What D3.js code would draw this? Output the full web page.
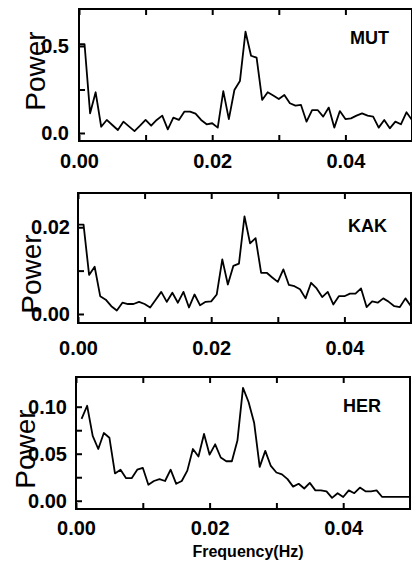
<!DOCTYPE html>
<html>
<head>
<meta charset="utf-8">
<script src="https://cdn.jsdelivr.net/npm/d3@7"></script>
<style>
  body { margin: 0; background: #fff; }
  svg { display: block; font-family: 'Liberation Sans', Arial, sans-serif; }
</style>
</head>
<body>
<div id="chart"></div>
<script>
// frequency grid of the spectra (Hz)
const freqStep = 1 / 1200
const frequencies = d3.range(61).map(i => i * freqStep)

// power values
const mutPower = [
  0.51, 0.51, 0.113, 0.234, 0.036, 0.075, 0.046, 0.017, 0.065, 0.038,
  0.011, 0.042, 0.075, 0.042, 0.075, 0.1, 0.021, 0.088, 0.075, 0.123,
  0.123, 0.111, 0.075, 0.05, 0.056, 0.031, 0.241, 0.08, 0.247, 0.299,
  0.582, 0.444, 0.433, 0.19, 0.234, 0.215, 0.195, 0.218, 0.171, 0.157,
  0.161, 0.065, 0.132, 0.132, 0.094, 0.146, 0.031, 0.126, 0.08, 0.084,
  0.1, 0.113, 0.1, 0.094, 0.031, 0.075, 0.027, 0.065, 0.05, 0.119, 0.075,
]
const kakPower = [
  0.0206, 0.0206, 0.009, 0.0109, 0.0041, 0.0033, 0.0018, 0.0008, 0.0026, 0.0023,
  0.0023, 0.0028, 0.0023, 0.0015, 0.0033, 0.0051, 0.0028, 0.0049, 0.0026, 0.0051,
  0.0015, 0.0045, 0.002, 0.0028, 0.0029, 0.0045, 0.0126, 0.0068, 0.0111, 0.0116,
  0.0225, 0.0163, 0.0175, 0.0095, 0.0095, 0.0084, 0.0074, 0.0103, 0.0067, 0.0064,
  0.0057, 0.0036, 0.0072, 0.0059, 0.0039, 0.0051, 0.0022, 0.0041, 0.0041, 0.0047,
  0.0047, 0.0059, 0.0016, 0.0029, 0.0026, 0.0036, 0.0028, 0.0018, 0.0016, 0.0036, 0.0018,
]
const herPower = [
  null, 0.087, 0.101, 0.069, 0.055, 0.072, 0.067, 0.029, 0.033, 0.024,
  0.024, 0.033, 0.035, 0.017, 0.021, 0.023, 0.021, 0.033, 0.018, 0.021,
  0.032, 0.055, 0.047, 0.071, 0.049, 0.06, 0.046, 0.042, 0.042, 0.064,
  0.12, 0.105, 0.083, 0.036, 0.053, 0.037, 0.03, 0.028, 0.023, 0.015,
  0.018, 0.013, 0.019, 0.011, 0.011, 0.01, 0.003, 0.008, 0.004, 0.011,
  0.008, 0.014, 0.01, 0.01, 0.011, 0.004, 0.004, 0.004, 0.004, 0.004, 0.004,
]

const stations = ['MUT', 'KAK', 'HER']
const seriesValues = [mutPower, kakPower, herPower]

const xTicks = [0, 0.01, 0.02, 0.03, 0.04]
const xTickLabels = [0, 0.02, 0.04]
const yTicks = [
  [0, 0.25, 0.5],
  [0, 0.01, 0.02],
  [0, 0.025, 0.05, 0.075, 0.1],
]
const yTickLabels = [
  [0, 0.5],
  [0, 0.02],
  [0, 0.05, 0.1],
]
const yTickFormats = ['.1f', '.2f', '.2f']
const xAxisTitle = 'Frequency(Hz)'
const yAxisTitle = 'Power'

// panel placement (pixels)
const layout = [
  { left: 79, right: 412, top: 9, bottom: 141, yDomain: [-0.046, 0.7126],
    xPad: 12.8, yPad: 10, powerX: 45, powerY: 71, titleX: 350, titleY: 44 },
  { left: 78, right: 411, top: 193, bottom: 323, yDomain: [-0.00208, 0.0279],
    xPad: 17.8, yPad: 8, powerX: 41, powerY: 274, titleX: 348, titleY: 232 },
  { left: 76, right: 410, top: 377, bottom: 509, yDomain: [-0.0088, 0.1316],
    xPad: 11.8, yPad: 9, powerX: 35, powerY: 449, titleX: 343, titleY: 412 },
]

const width = 412
const height = 561
const tickLen = 6

const svg = d3
  .select('#chart')
  .append('svg')
  .attr('width', width)
  .attr('height', height)

layout.forEach((lay, p) => {
  const xScale = d3.scaleLinear().domain([0, 0.05]).range([lay.left, lay.right])
  const yScale = d3.scaleLinear().domain(lay.yDomain).range([lay.bottom, lay.top])
  const g = svg.append('g')

  const fmtX = d => (xTickLabels.includes(d) ? d3.format('.2f')(d) : '')
  const fmtY = d => (yTickLabels[p].includes(d) ? d3.format(yTickFormats[p])(d) : '')

  // bottom axis with labels, ticks pointing inward
  g.append('g')
    .attr('transform', `translate(0,${lay.bottom})`)
    .call(d3.axisBottom(xScale).tickValues(xTicks).tickSize(-tickLen).tickPadding(lay.xPad).tickFormat(fmtX))
    .call(styleAxis)

  // top axis, ticks only
  g.append('g')
    .attr('transform', `translate(0,${lay.top})`)
    .call(d3.axisTop(xScale).tickValues(xTicks).tickSize(-tickLen).tickFormat(''))
    .call(styleAxis)

  // left axis
  g.append('g')
    .attr('transform', `translate(${lay.left},0)`)
    .call(d3.axisLeft(yScale).tickValues(yTicks[p]).tickSize(-tickLen).tickPadding(lay.yPad).tickFormat(fmtY))
    .call(styleAxis)

  // frame
  g.append('rect')
    .attr('x', lay.left)
    .attr('y', lay.top)
    .attr('width', lay.right - lay.left)
    .attr('height', lay.bottom - lay.top)
    .attr('fill', 'none')
    .attr('stroke', '#000')
    .attr('stroke-width', 2)

  const line = d3
    .line()
    .defined(d => d[1] !== null)
    .x(d => xScale(d[0]))
    .y(d => yScale(d[1]))

  g.append('path')
    .datum(frequencies.map((f, i) => [f, seriesValues[p][i]]))
    .attr('d', line)
    .attr('fill', 'none')
    .attr('stroke', '#000')
    .attr('stroke-width', 1.8)
    .attr('stroke-linejoin', 'round')

  g.append('text')
    .attr('x', lay.titleX)
    .attr('y', lay.titleY)
    .attr('font-size', 18)
    .attr('font-weight', 'bold')
    .text(stations[p])

  g.append('text')
    .attr('transform', `translate(${lay.powerX},${lay.powerY}) rotate(-90)`)
    .attr('text-anchor', 'middle')
    .attr('font-size', 28)
    .text(yAxisTitle)
})

svg.append('text')
  .attr('x', 248)
  .attr('y', 557)
  .attr('text-anchor', 'middle')
  .attr('font-size', 16)
  .attr('font-weight', 'bold')
  .text(xAxisTitle)

function styleAxis(g) {
  g.select('.domain').remove()
  g.selectAll('.tick line').attr('stroke', '#000').attr('stroke-width', 2)
  g.selectAll('.tick text')
    .attr('fill', '#000')
    .style('font-size', '20px')
    .style('font-weight', 'bold')
    .style('font-family', "'Liberation Sans', Arial, sans-serif")
}
</script>
</body>
</html>
